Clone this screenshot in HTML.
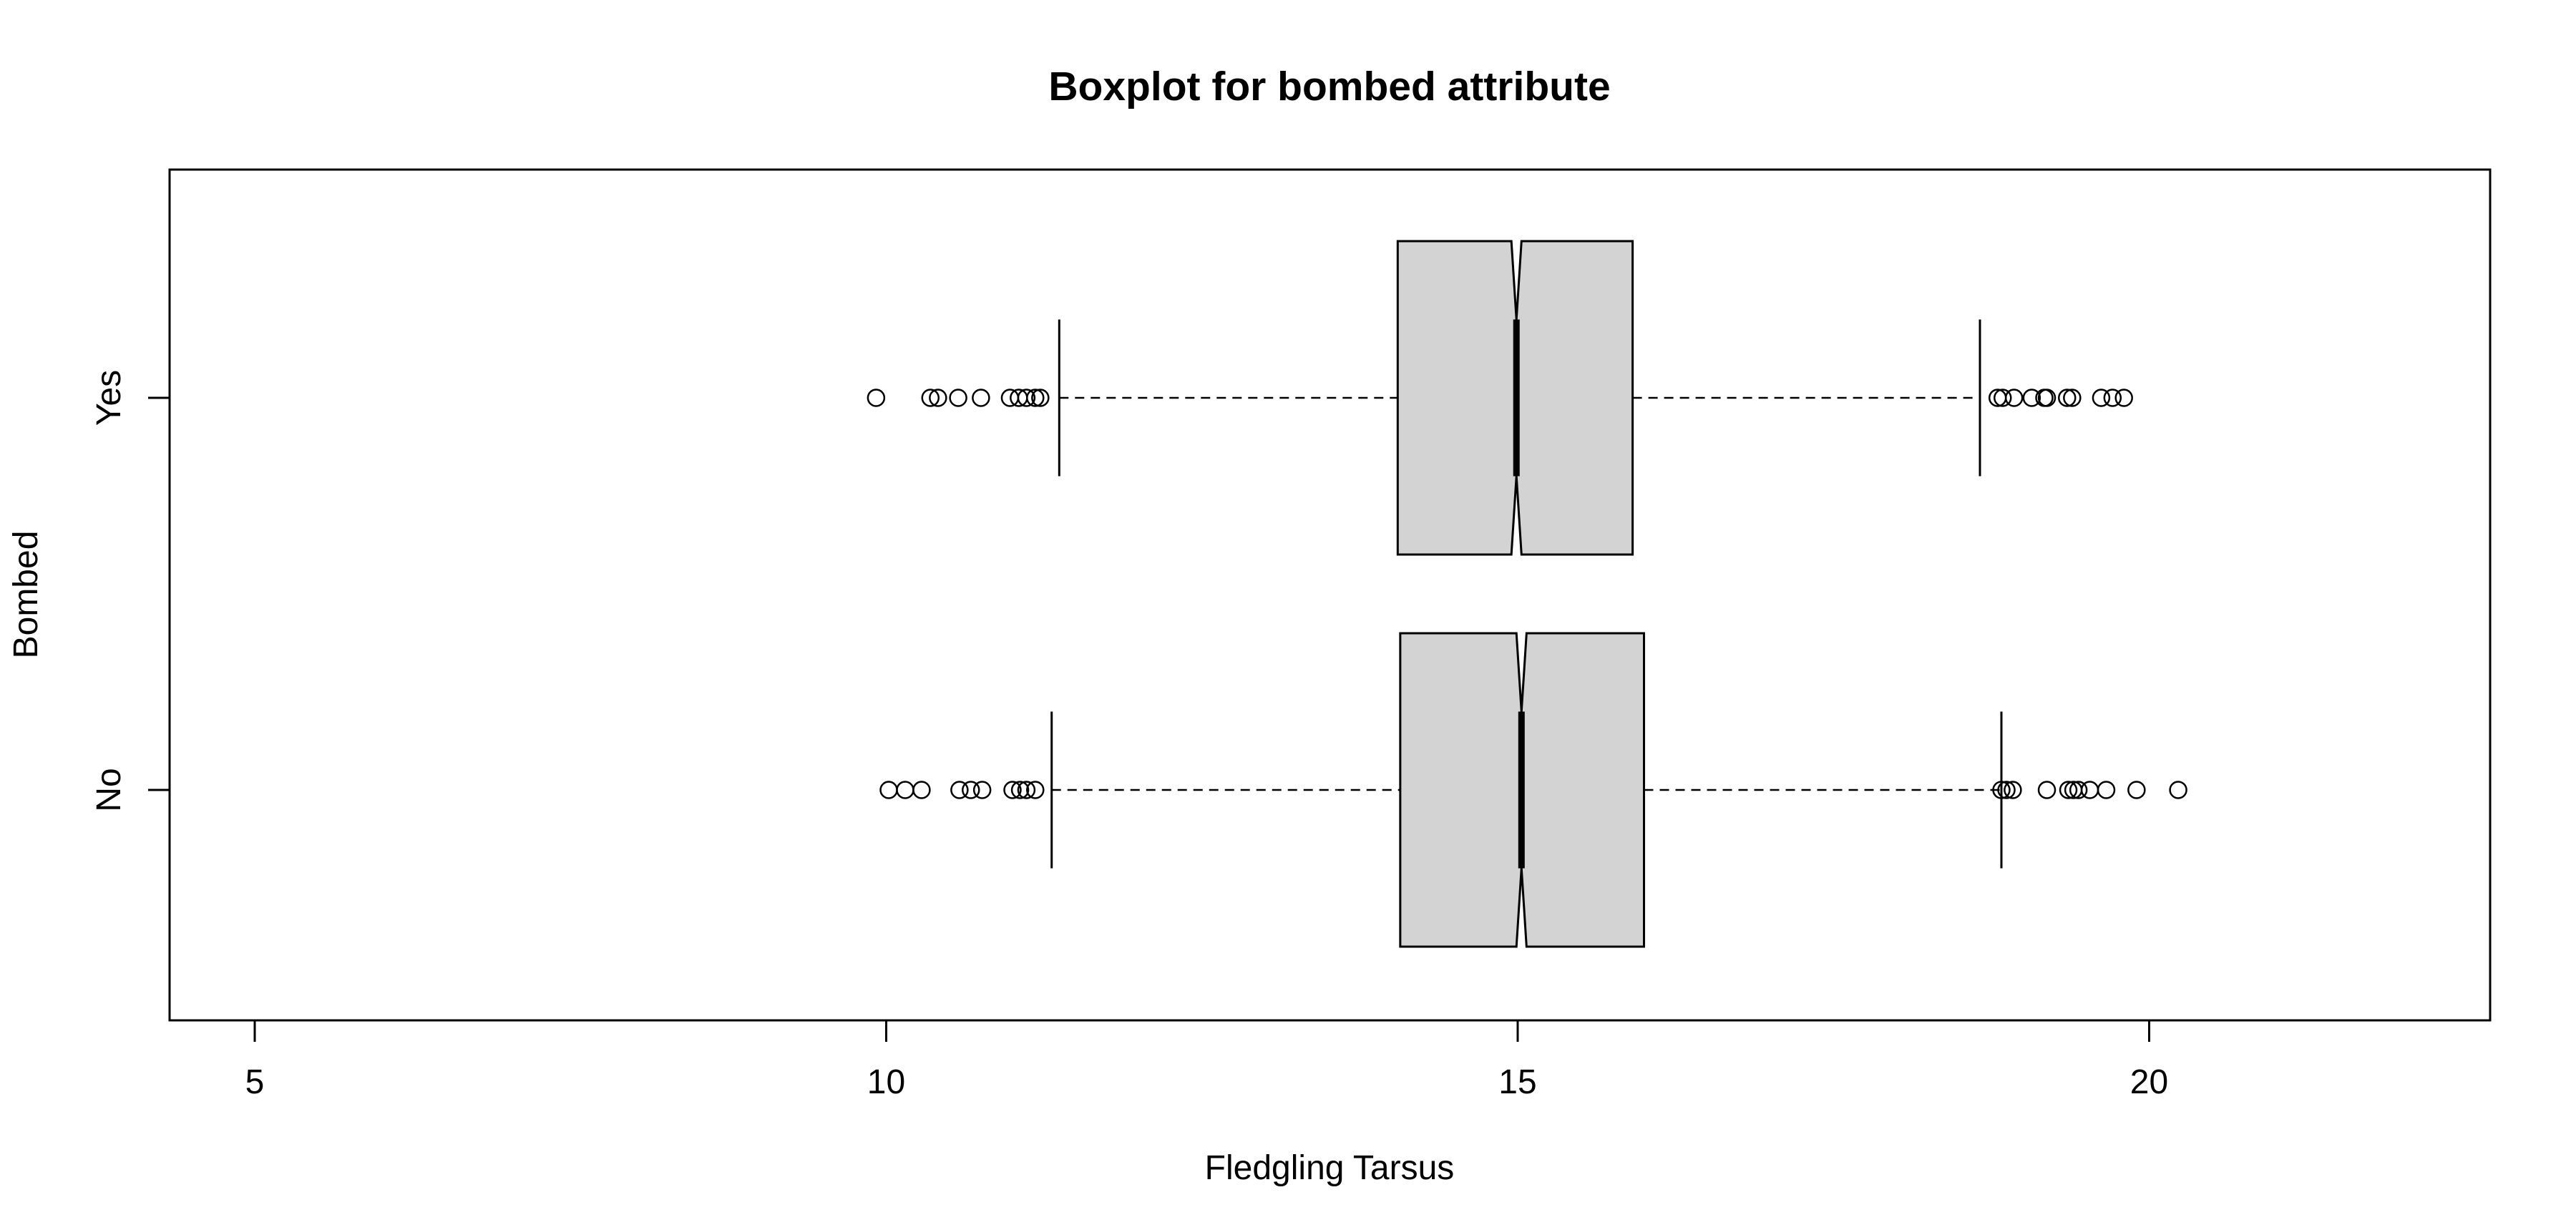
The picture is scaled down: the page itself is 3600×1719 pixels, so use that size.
<!DOCTYPE html>
<html><head><meta charset="utf-8"><style>
html,body{margin:0;padding:0;background:#fff;}
svg{display:block;font-family:"Liberation Sans",Arial,sans-serif;}
</style></head><body>
<svg id="chart" width="3600" height="1719" viewBox="0 0 3600 1719" xmlns="http://www.w3.org/2000/svg">
<rect width="3600" height="1719" fill="#fff"/>
<text x="1858" y="140" text-anchor="middle" font-size="57" font-weight="bold">Boxplot for bombed attribute</text>
<text x="1858" y="1648" text-anchor="middle" font-size="48">Fledgling Tarsus</text>
<text transform="translate(52,831) rotate(-90)" text-anchor="middle" font-size="48">Bombed</text>
<g id="marks"></g>
<rect x="237" y="237" width="3243" height="1189" fill="none" stroke="#000" stroke-width="3"/>
</svg>
<script>
const categories = ["No", "Yes"];
const q1 = [14.07, 14.05];
const median = [15.03, 14.99];
const q3 = [16.0, 15.91];
const notchLo = [14.99, 14.95];
const notchHi = [15.07, 15.03];
const whiskLo = [11.31, 11.37];
const whiskHi = [18.83, 18.66];
const outliersNo = [10.02,10.15,10.28,10.58,10.67,10.76,11.0,11.06,11.11,11.18,18.83,18.87,18.92,19.19,19.36,19.40,19.44,19.53,19.66,19.90,20.23];
const outliersYes = [9.92,10.35,10.41,10.57,10.75,10.98,11.05,11.11,11.18,11.22,18.80,18.84,18.93,19.07,19.17,19.19,19.35,19.39,19.62,19.71,19.80];
const xTicks = [5, 10, 15, 20];

const NS = "http://www.w3.org/2000/svg";
const g = document.getElementById("marks");
const X = v => 356 + (v - 5) * 176.5;
const Y = i => 1104 - i * 548;
const HB = 219;
function mk(tag, attrs){const e=document.createElementNS(NS,tag);for(const k in attrs)e.setAttribute(k,attrs[k]);g.appendChild(e);return e;}

xTicks.forEach(t=>{
  const l=mk("line",{x1:X(t),x2:X(t),y1:1426,y2:1456,stroke:"#000","stroke-width":3});
  
  
  const tx=mk("text",{x:X(t),y:1528,"text-anchor":"middle","font-size":48});
  tx.textContent=t;
  
  
});
const outs=[outliersNo,outliersYes];
categories.forEach((c,i)=>{
  const y=Y(i);
  const tk=mk("line",{x1:207,x2:237,y1:y,y2:y,stroke:"#000","stroke-width":3});
  
  
  const tl=mk("text",{transform:`translate(168,${y}) rotate(-90)`,"text-anchor":"middle","font-size":48});
  tl.textContent=c;
  
  
  const w1=mk("line",{x1:X(whiskLo[i]),x2:X(q1[i]),y1:y,y2:y,stroke:"#000","stroke-width":2.5,"stroke-dasharray":"13,9"});
  
  
  const w2=mk("line",{x1:X(q3[i]),x2:X(whiskHi[i]),y1:y,y2:y,stroke:"#000","stroke-width":2.5,"stroke-dasharray":"13,9"});
  
  
  [whiskLo[i],whiskHi[i]].forEach(v=>{
    const cap=mk("line",{x1:X(v),x2:X(v),y1:y-HB/2,y2:y+HB/2,stroke:"#000","stroke-width":3});
    
    
  });
  const a=X(q1[i]),b=X(notchLo[i]),m=X(median[i]),d=X(notchHi[i]),e=X(q3[i]);
  const mh=HB/2;
  const pts=`${a},${y-HB} ${b},${y-HB} ${m},${y-mh} ${d},${y-HB} ${e},${y-HB} ${e},${y+HB} ${d},${y+HB} ${m},${y+mh} ${b},${y+HB} ${a},${y+HB}`;
  const box=mk("polygon",{points:pts,fill:"#d3d3d3",stroke:"#000","stroke-width":3});
  
  
  const med=mk("line",{x1:m,x2:m,y1:y-mh,y2:y+mh,stroke:"#000","stroke-width":9});
  
  
  outs[i].forEach(v=>{
    const p=mk("ellipse",{cx:X(v),cy:y,rx:11.5,ry:11.5,fill:"none",stroke:"#000","stroke-width":2.5});
    
    
  });
});
</script>
</body></html>
